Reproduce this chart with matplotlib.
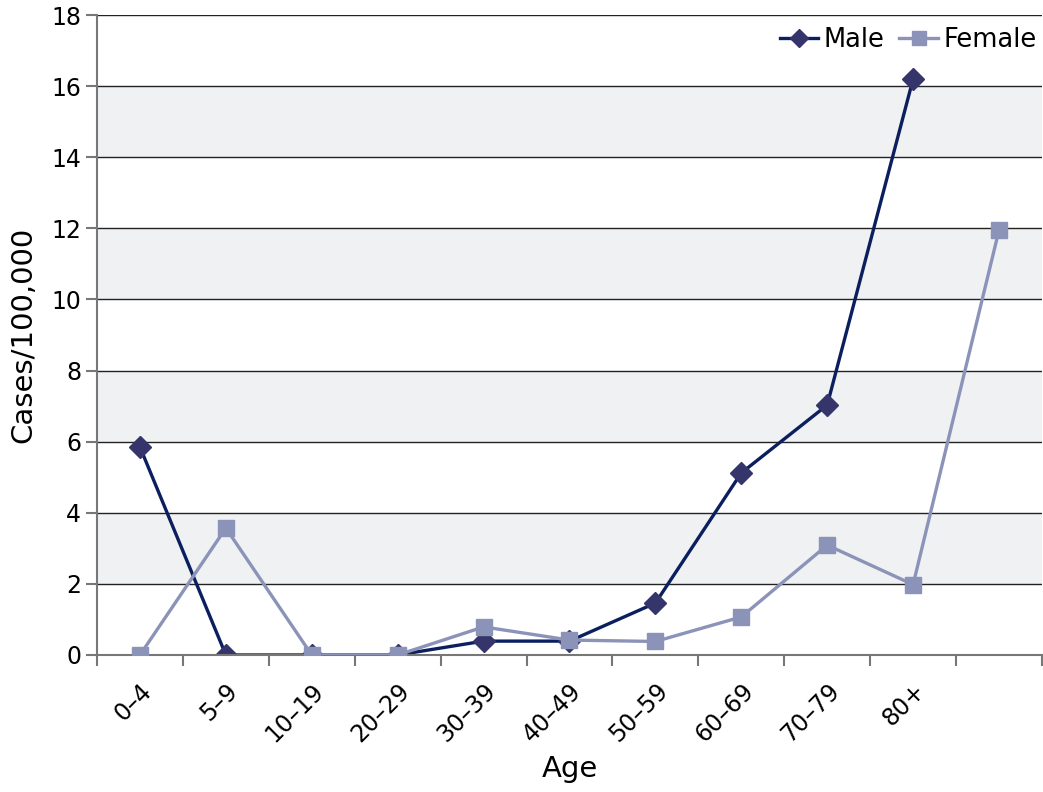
import numpy as np
import matplotlib.pyplot as plt
import matplotlib.transforms as mtransforms
from matplotlib.ticker import FixedLocator

# Dados
grupos = ['0–4', '5–9', '10–19', '20–29', '30–39', '40–49',
          '50–59', '60–69', '70–79', '80+', '']
masculino = [5.85, 0.0, 0.0, 0.0, 0.39, 0.39, 1.46, 5.12, 7.03, 16.2]
feminino = [0.0, 3.57, 0.0, 0.0, 0.79, 0.42, 0.38, 1.07, 3.09, 1.98, 11.95]

cor_m_linha = '#0b1f5e'
cor_m_marc = '#35356b'
cor_f = '#8b93b8'

fig = plt.figure(figsize=(10.43, 7.92), dpi=100)
ax = fig.add_axes([0.093, 0.173, 0.906, 0.808])

# faixas cinzas alternadas
for y0 in range(2, 18, 4):
    ax.axhspan(y0, y0 + 2, color='#f0f1f3', zorder=0, lw=0)
for y in range(2, 19, 2):
    ax.axhline(y, color='#222222', lw=1.0, zorder=1)

xm = np.arange(len(masculino))
xf = np.arange(len(feminino))
ax.plot(xm, masculino, '-', color=cor_m_linha, lw=2.4, zorder=2,
        marker='D', markersize=11, markerfacecolor=cor_m_marc,
        markeredgecolor=cor_m_marc, label='Male')
ax.plot(xf, feminino, '-', color=cor_f, lw=2.4, zorder=3,
        marker='s', markersize=12, markerfacecolor=cor_f,
        markeredgecolor=cor_f, label='Female')

ax.set_xlim(-0.5, len(grupos) - 0.5)
ax.set_ylim(0, 18)
ax.set_yticks(range(0, 19, 2))
ax.set_xticks(range(len(grupos)))
ax.set_xticklabels(grupos, rotation=45, ha='right', rotation_mode='anchor',
                   fontsize=17)
desloc = mtransforms.ScaledTranslation(0.13, 0, fig.dpi_scale_trans)
for lb in ax.get_xticklabels():
    lb.set_transform(lb.get_transform() + desloc)
ax.tick_params(axis='x', which='major', length=0, pad=17)
ax.xaxis.set_minor_locator(FixedLocator(np.arange(-0.5, len(grupos), 1)))
ax.tick_params(axis='x', which='minor', length=8, color='#777777', width=1.5)
ax.tick_params(axis='y', length=8, color='#777777', width=1.5, labelsize=17)

for s in ['top', 'right']:
    ax.spines[s].set_visible(False)
ax.spines['left'].set_color('#777777')
ax.spines['left'].set_linewidth(1.5)
ax.spines['bottom'].set_color('#777777')
ax.spines['bottom'].set_linewidth(1.5)

ax.set_ylabel('Cases/100,000', fontsize=21, labelpad=10)
ax.set_xlabel('Age', fontsize=21, labelpad=6)

ax.legend(loc='upper right', ncol=2, frameon=False, fontsize=18.5,
          handlelength=1.5, handletextpad=0.2, columnspacing=0.6,
          markerscale=0.85, bbox_to_anchor=(1.005, 0.998), borderaxespad=0.0)

plt.savefig('out.png', dpi=100)
